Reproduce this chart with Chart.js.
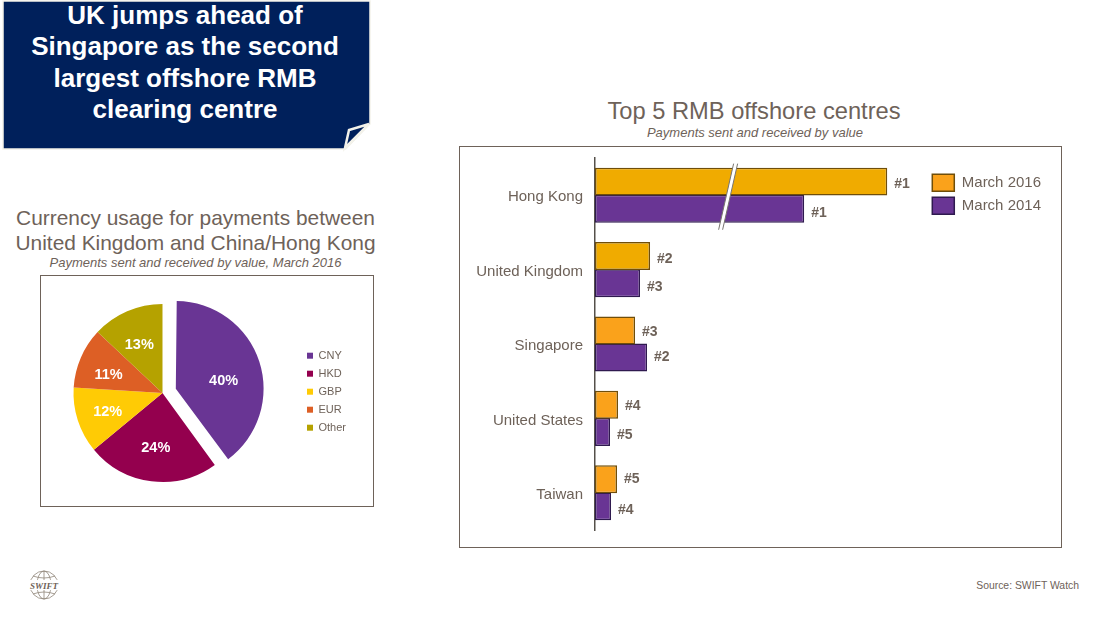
<!DOCTYPE html>
<html>
<head>
<meta charset="utf-8">
<script src="https://cdn.jsdelivr.net/npm/chart.js@4/dist/chart.umd.min.js"></script>
<style>
  html, body { margin: 0; padding: 0; background: #fff; }
  body { width: 1107px; height: 622px; position: relative; overflow: hidden; font-family: "Liberation Sans", Arial, sans-serif; color: #6e6259; }
  .abs { position: absolute; white-space: nowrap; }
  .box { position: absolute; box-sizing: border-box; border: 1px solid #6e6259; background: #fff; }
  .sub { font-style: italic; font-size: 13px; text-align: center; }
  .ttl { text-align: center; }
  canvas { position: absolute; }
  #banner { left: 0; top: 0; }
  #bannerText { left: 4px; top: 0; width: 362px; text-align: center; color: #fff; font-weight: bold; font-size: 26px; line-height: 31.4px; }
</style>
</head>
<body>
<svg id="banner" class="abs" width="380" height="155">
  <polygon points="3,1 370,1 370,124 346,149 3,149" fill="#00205b" stroke="#f3f2ea" stroke-width="1.5"/>
  <polygon points="369,124 349,130 345,148" fill="#00205b" stroke="#f3f2ea" stroke-width="2.5"/>
  <polygon points="370,125 370,150 346,150" fill="#fff"/>
</svg>
<div id="bannerText" class="abs">UK jumps ahead of<br>Singapore as the second<br>largest offshore RMB<br>clearing centre</div>

<div class="abs ttl" style="left:0;top:206px;width:391px;font-size:20.9px;line-height:24.5px;">Currency usage for payments between<br>United Kingdom and China/Hong Kong</div>
<div class="abs sub" style="left:0;top:255px;width:391px;">Payments sent and received by value, March 2016</div>
<div class="box" style="left:40px;top:275px;width:334px;height:232px;"></div>
<canvas id="pieChart" style="left:25px;top:276px;" width="349" height="230"></canvas>

<div class="abs ttl" style="left:459px;top:98px;width:590px;font-size:23.7px;">Top 5 RMB offshore centres</div>
<div class="abs sub" style="left:460px;top:125px;width:590px;">Payments sent and received by value</div>
<div class="box" style="left:459px;top:146px;width:603px;height:402px;"></div>
<canvas id="barChart" style="left:460px;top:147px;" width="601" height="400"></canvas>

<svg class="abs" style="left:28px;top:569px;" width="32" height="32" fill="none" stroke="#8f8578" stroke-width="0.8">
  <circle cx="16" cy="16" r="14"/>
  <ellipse cx="16" cy="16" rx="7" ry="14"/>
  <line x1="16" y1="2" x2="16" y2="30"/>
  <path d="M5 7 Q16 11 27 7 M5 25 Q16 21 27 25"/>
  <rect x="1" y="11" width="30" height="10" fill="#fff" stroke="none"/>
  <text x="16" y="19.5" text-anchor="middle" font-family="Liberation Serif" font-style="italic" font-weight="bold" font-size="9" fill="#6e6259" stroke="none">SWIFT</text>
</svg>
<div class="abs" style="right:28px;top:580px;font-size:10.4px;">Source: SWIFT Watch</div>

<script>
// bar chart data (relative bar lengths, hong kong axis is broken)
var centres = ['Hong Kong', 'United Kingdom', 'Singapore', 'United States', 'Taiwan'];
var march2016 = [292, 55, 40, 23, 22];
var march2014 = [209, 45, 52, 15, 16];
var rank2016 = ['#1', '#2', '#3', '#4', '#5'];
var rank2014 = ['#1', '#3', '#2', '#5', '#4'];
var seriesNames = ['March 2016', 'March 2014'];
var axisBreakAt = 133;

// pie chart data
var currencies = ['CNY', 'HKD', 'GBP', 'EUR', 'Other'];
var shares = [40, 24, 12, 11, 13];

var GREY = '#6e6259';
var FONT = '"Liberation Sans", Arial, sans-serif';
// the labels are not placed evenly in the original
var rankNudge = [[3, 3, 2, 1, 0], [4, 4, 0, 3, 4]];
var shareNudge = [[-3, 9], [0, 2], [-4, 2], [-5, 3], [-2, 1]];
var PIE_RADIUS = 89;
var PIE_EXPLODE = 14;

// rank labels at the end of the bars + the break mark on hong kong
var barExtras = {
  id: 'barExtras',
  afterDatasetsDraw: function(chart) {
    var ctx = chart.ctx;
    var ranks = [rank2016, rank2014];
    ctx.save();
    ctx.fillStyle = GREY;
    ctx.font = 'bold 14px ' + FONT;
    ctx.textBaseline = 'middle';
    ranks.forEach(function(list, d) {
      chart.getDatasetMeta(d).data.forEach(function(bar, i) {
        ctx.fillText(list[i], bar.x + 7, bar.y + rankNudge[d][i]);
      });
    });
    // slanted white band across the first group
    var bx = chart.scales.x.getPixelForValue(axisBreakAt);
    var top = chart.getDatasetMeta(0).data[0];
    var bottom = chart.getDatasetMeta(1).data[0];
    var y1 = top.y - top.height / 2 - 4, y2 = bottom.y + bottom.height / 2 + 7;
    var slant = 7.5;
    ctx.beginPath();
    ctx.moveTo(bx + slant - 2, y1);
    ctx.lineTo(bx + slant + 2, y1);
    ctx.lineTo(bx - slant + 2, y2);
    ctx.lineTo(bx - slant - 2, y2);
    ctx.closePath();
    ctx.fillStyle = '#fff';
    ctx.fill();
    ctx.strokeStyle = '#77746f';
    ctx.lineWidth = 1;
    ctx.beginPath();
    ctx.moveTo(bx + slant - 2, y1);
    ctx.lineTo(bx - slant - 2, y2);
    ctx.moveTo(bx + slant + 2, y1);
    ctx.lineTo(bx - slant + 2, y2);
    ctx.stroke();
    ctx.restore();
  }
};

new Chart(document.getElementById('barChart'), {
  type: 'bar',
  data: {
    labels: centres,
    datasets: [
      { label: seriesNames[0], data: march2016, backgroundColor: ['#f0ab00', '#f0ab00', '#faa21b', '#faa21b', '#faa21b'], borderColor: '#6f4e0a', borderWidth: 1.5, borderSkipped: false },
      { label: seriesNames[1], data: march2014, backgroundColor: '#693594', borderColor: '#2f1a4f', borderWidth: 1.5, borderSkipped: false }
    ]
  },
  options: {
    indexAxis: 'y',
    responsive: false,
    animation: false,
    layout: { padding: { top: 11, bottom: 17, right: 10 } },
    datasets: { bar: { categoryPercentage: 0.73, barPercentage: 1.03 } },
    scales: {
      x: { display: false, min: 0, max: 331 },
      y: {
        afterFit: function(s) { s.width = 135; s.paddingTop = 0; s.paddingBottom = 0; },
        grid: { display: false, drawTicks: false },
        border: { color: '#55504a', width: 1.5 },
        ticks: { color: GREY, padding: 12, labelOffset: 2, font: { size: 15, family: FONT } }
      }
    },
    plugins: {
      tooltip: { enabled: false },
      legend: {
        position: 'right',
        align: 'start',
        title: { display: true, text: '', padding: { top: 0, bottom: 9 }, font: { size: 1 } },
        labels: {
          boxWidth: 22,
          boxHeight: 17,
          padding: 6,
          color: GREY,
          font: { size: 15, family: FONT },
          generateLabels: function() {
            return [
              { text: seriesNames[0], fillStyle: '#faa21b', strokeStyle: '#6f4e0a', lineWidth: 1.5, fontColor: GREY },
              { text: seriesNames[1], fillStyle: '#693594', strokeStyle: '#2f1a4f', lineWidth: 1.5, fontColor: GREY }
            ];
          }
        }
      }
    }
  },
  plugins: [barExtras]
});

// percent labels on the slices
var pieLabels = {
  id: 'pieLabels',
  // chart.js grows an arc by part of its offset as well as moving it, so take that back
  afterDatasetsUpdate: function(chart) {
    chart.getDatasetMeta(0).data[0].outerRadius = PIE_RADIUS + 1 - 8;
  },
  afterDatasetsDraw: function(chart) {
    var ctx = chart.ctx;
    ctx.save();
    ctx.fillStyle = '#fff';
    ctx.font = 'bold 14.5px ' + FONT;
    ctx.textAlign = 'center';
    ctx.textBaseline = 'middle';
    chart.getDatasetMeta(0).data.forEach(function(arc, i) {
      var mid = (arc.startAngle + arc.endAngle) / 2;
      var r = PIE_RADIUS * 0.6 + (i === 0 ? PIE_EXPLODE : 0);
      ctx.fillText(shares[i] + '%', arc.x + Math.cos(mid) * r + shareNudge[i][0], arc.y + Math.sin(mid) * r + shareNudge[i][1]);
    });
    ctx.restore();
  }
};

new Chart(document.getElementById('pieChart'), {
  type: 'pie',
  data: {
    labels: currencies,
    datasets: [{
      data: shares,
      backgroundColor: ['#693594', '#94004e', '#ffcb05', '#dd5f25', '#b5a200'],
      borderWidth: 0,
      offset: [PIE_EXPLODE * 4, 0, 0, 0, 0],
      radius: PIE_RADIUS
    }]
  },
  options: {
    responsive: false,
    animation: false,
    layout: { padding: { top: 4, right: 18 } },
    plugins: {
      tooltip: { enabled: false },
      legend: {
        position: 'right',
        align: 'start',
        title: { display: true, text: '', padding: { top: 0, bottom: 62 }, font: { size: 1 } },
        labels: {
          boxWidth: 6,
          boxHeight: 6,
          padding: 7,
          color: GREY,
          font: { size: 11, family: FONT }
        }
      }
    }
  },
  plugins: [pieLabels]
});
</script>
</body>
</html>
